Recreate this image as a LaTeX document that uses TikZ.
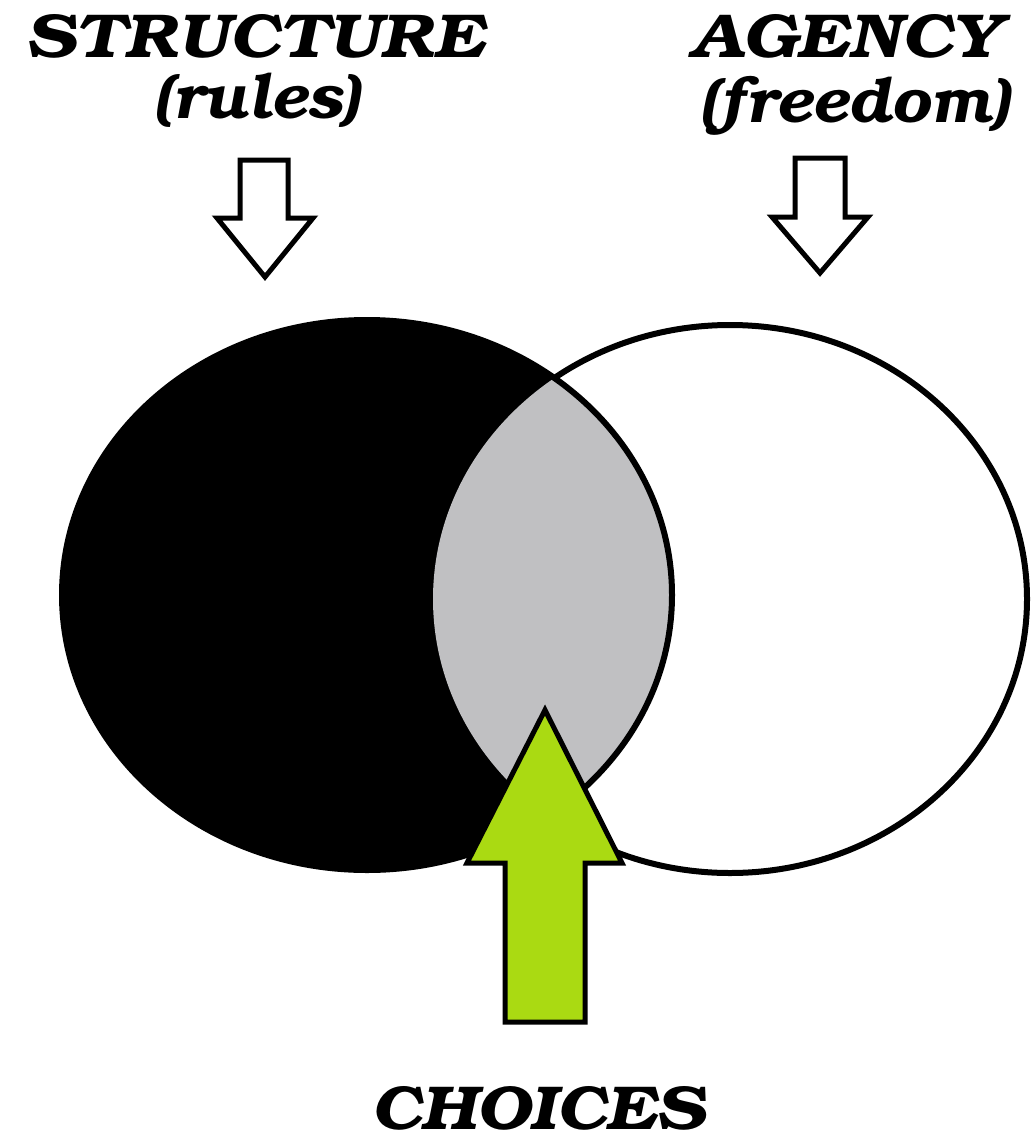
\documentclass[tikz,border=0pt]{standalone}
\usepackage[T1]{fontenc}
\usepackage{bookman}
\definecolor{choicegreen}{RGB}{170,218,18}
\definecolor{overlapgray}{RGB}{192,192,194}
\begin{document}
\begin{tikzpicture}[x=1pt,y=-1pt,line join=miter]
\tikzset{
  lbl/.style={font=\fontsize{62}{64}\selectfont\bfseries\itshape,inner sep=0pt,anchor=base},
  downarrow/.style={draw=black,fill=white,line width=5pt},
  bigarrow/.style={draw=black,fill=choicegreen,line width=5pt},
  ringline/.style={draw=black,line width=6pt}
}
\useasboundingbox (0,0) rectangle (1033,1140);
\fill[white] (0,0) rectangle (1033,1140);

% labels
\node[lbl] (structure) at (255,57) {\scalebox{1.14}[1]{STRUCTURE}};
\node[lbl] (rules) at (257,118) {\scalebox{1.03}[1]{(rules)}};
\node[lbl] (agency) at (845,57) {\scalebox{1.16}[1]{AGENCY}};
\node[lbl] (freedom) at (855,122) {\scalebox{1.03}[1]{(freedom)}};
\node[lbl] (choices) at (538,1129) {\scalebox{1.13}[1]{CHOICES}};

% down arrows
\draw[downarrow] (240,160) -- (288,160) -- (288,218) -- (313,218) -- (265,277) -- (217,218) -- (240,218) -- cycle;
\draw[downarrow] (795,158) -- (845,158) -- (845,217) -- (868,217) -- (820,273) -- (772,217) -- (795,217) -- cycle;

% ellipses
\fill[black] (367,595) ellipse [x radius=305, y radius=275];
\filldraw[fill=white,ringline] (730,599) ellipse [x radius=297, y radius=274];
\begin{scope}
  \clip (367,595) ellipse [x radius=305, y radius=275];
  \fill[overlapgray] (730,599) ellipse [x radius=297, y radius=274];
\end{scope}
\draw[ringline] (367,595) ellipse [x radius=305, y radius=275];

% green arrow
\draw[bigarrow] (505,1022) -- (505,863) -- (467,863) -- (545,710) -- (622,863) -- (585,863) -- (585,1022) -- cycle;
\end{tikzpicture}
\end{document}
